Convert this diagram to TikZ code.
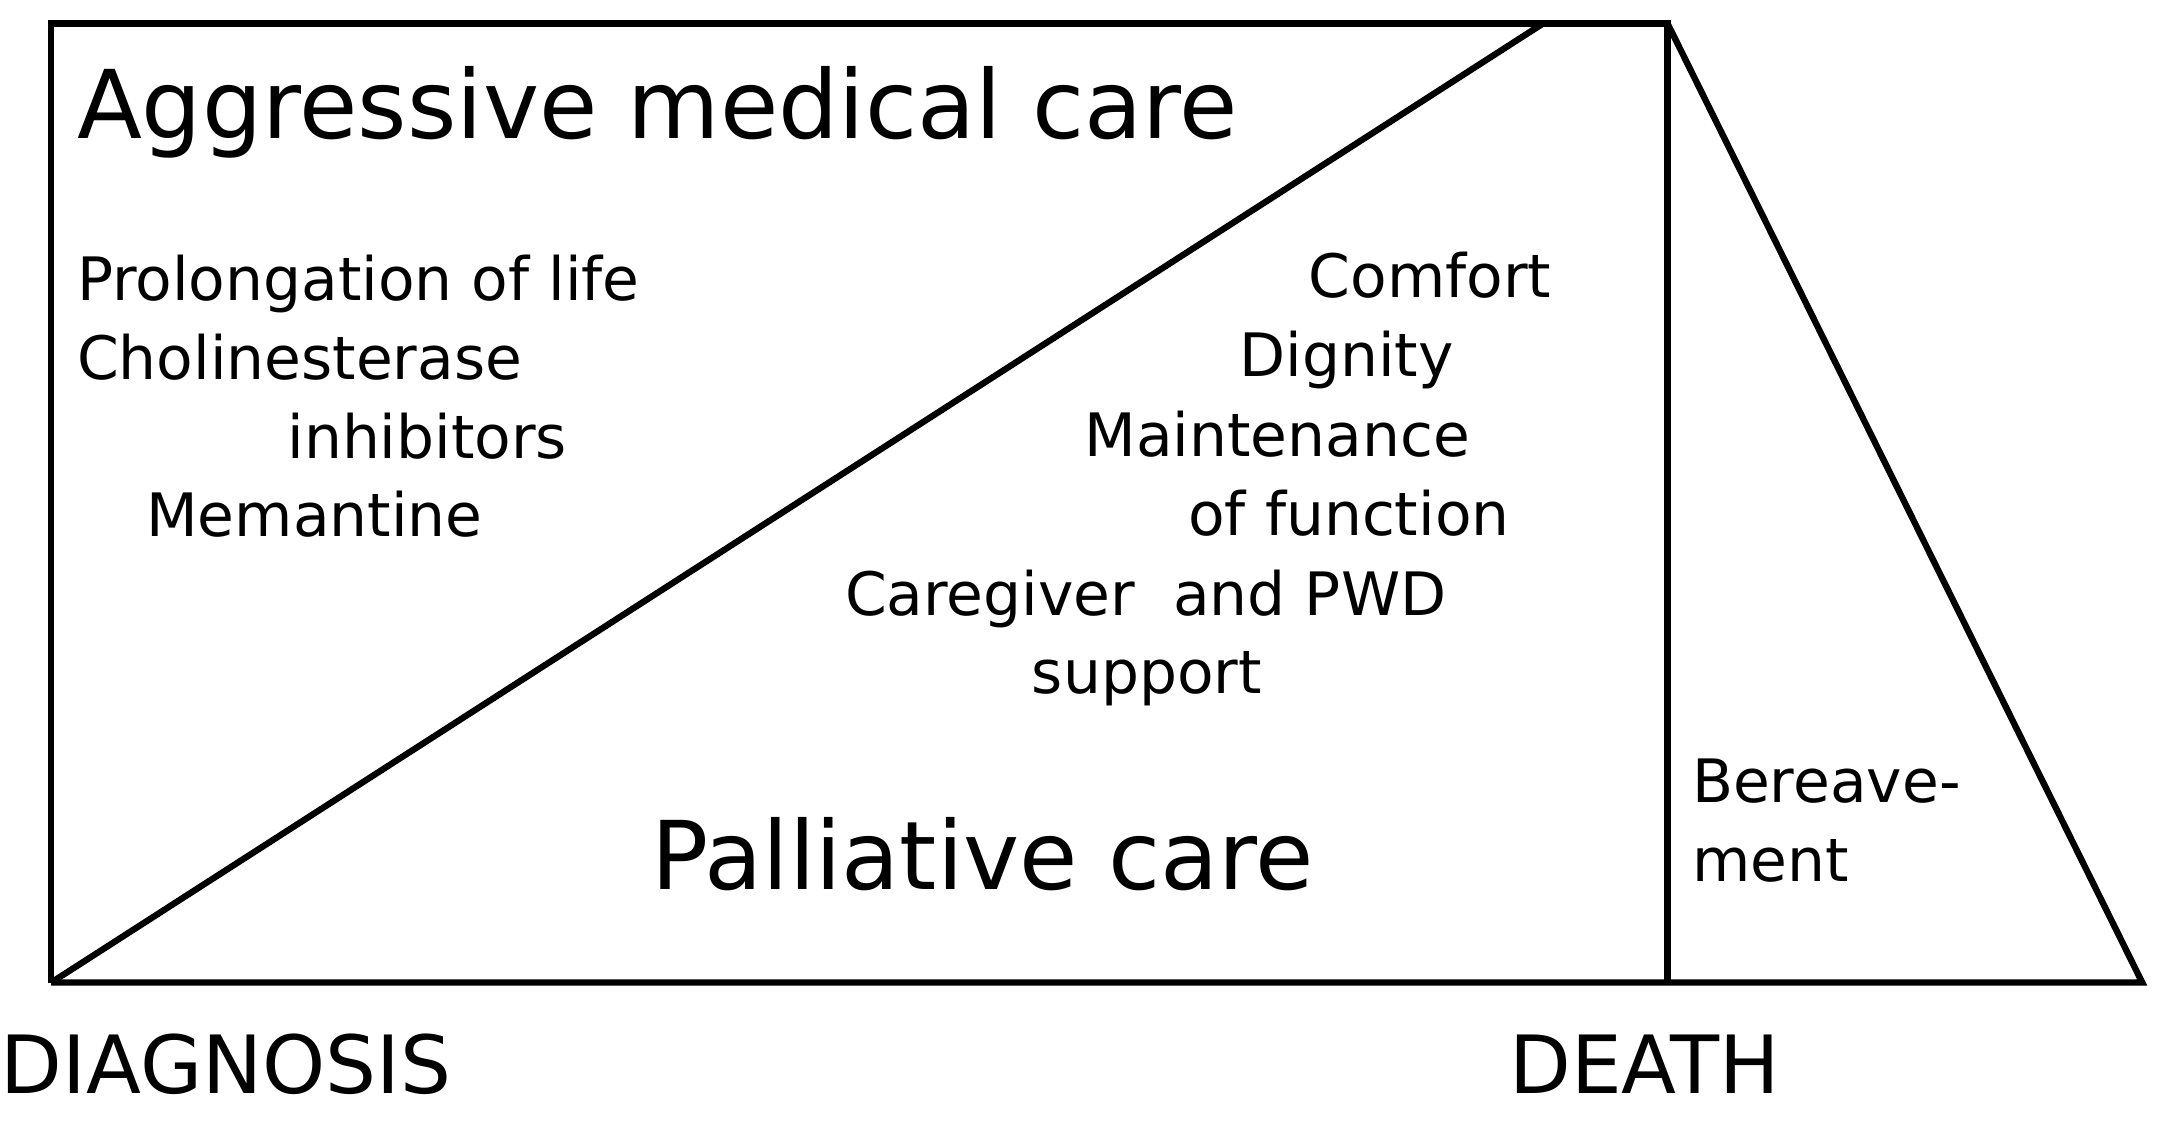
\documentclass[tikz,border=0pt]{standalone}
\usepackage{fontspec}
\setmainfont{DejaVu Sans}
\begin{document}
\begin{tikzpicture}[x=0.01cm,y=-0.01cm,
  t/.style={anchor=base west,inner sep=0pt,font=\fontsize{12.3}{15}\selectfont},
  big/.style={anchor=base west,inner sep=0pt,font=\fontsize{19.5}{22}\selectfont},
  lab/.style={anchor=base west,inner sep=0pt,font=\fontsize{16.5}{20}\selectfont},
  ln/.style={line width=1.3pt,line join=miter}]
\useasboundingbox (0,0) rectangle (1563,810);
\coordinate (bl) at (37,710);
\coordinate (tl) at (37,17);
\coordinate (tr) at (1205,17);
\coordinate (br) at (1205,710);
\coordinate (dt) at (1115,17);
\coordinate (te) at (1548,710);
\draw[ln] (bl) -- (tl) -- (tr) -- (br);
\draw[ln] (bl) -- (te) -- (tr);
\draw[ln] (bl) -- (dt);
\node[big] (agg) at (55,100) {Aggressive medical care};
\node[t] (l1) at (55,217) {Prolongation of life};
\node[t] (l2) at (55,274) {Cholinesterase};
\node[t] (l3) at (207,331) {inhibitors};
\node[t] (l4) at (105,388) {Memantine};
\node[t] (r1) at (945,215) {Comfort};
\node[t] (r2) at (895,272) {Dignity};
\node[t] (r3) at (783,330) {Maintenance};
\node[t] (r4) at (858,387) {of function};
\node[t] (r5) at (610,445) {Caregiver\ \ and PWD};
\node[t] (r6) at (745,501) {support};
\node[big] (pal) at (470,643) {Palliative care};
\node[t] (b1) at (1222,580) {Bereave-};
\node[t] (b2) at (1222,637) {ment};
\node[lab] (dia) at (0,790) {DIAGNOSIS};
\node[lab] (dea) at (1090,790) {DEATH};
\end{tikzpicture}
\end{document}
